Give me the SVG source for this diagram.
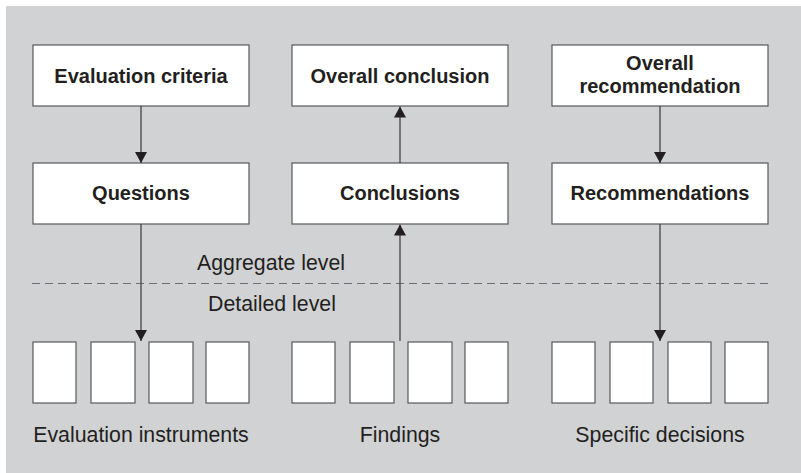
<svg xmlns="http://www.w3.org/2000/svg" width="801" height="473" viewBox="0 0 801 473">
  <style>
    .box { fill: #ffffff; stroke: #58595b; stroke-width: 1.2; }
    .hd { font-family: "Liberation Sans", Arial, sans-serif; font-weight: bold; font-size: 20px; fill: #231f20; text-anchor: middle; }
    .lb { font-family: "Liberation Sans", Arial, sans-serif; font-size: 21.3px; fill: #231f20; text-anchor: middle; }
    .ln { stroke: #3a3a3c; stroke-width: 1.2; fill: none; }
    .dash { stroke: #6d6e71; stroke-width: 1.2; stroke-dasharray: 8 5; fill: none; }
  </style>
  <defs>
    <marker id="tri" markerWidth="11" markerHeight="12" refX="11" refY="6" orient="auto" markerUnits="userSpaceOnUse" viewBox="0 0 11 12">
      <path d="M0,0 L11,6 L0,12 Z" fill="#231f20"/>
    </marker>
  </defs>

  <rect x="6" y="6" width="795" height="467" fill="#d1d2d4"/>

  <!-- level separator -->
  <g id="levels">
    <line class="dash" x1="32" y1="283.5" x2="768" y2="283.5"/>
    <text class="lb" x="271" y="270">Aggregate level</text>
    <text class="lb" x="272" y="311">Detailed level</text>
  </g>

  <!-- column 1: criteria, questions, instruments -->
  <g id="evaluation-criteria">
    <rect class="box" x="33" y="45" width="216" height="61"/>
    <text class="hd" x="141" y="83">Evaluation criteria</text>
  </g>
  <g id="questions">
    <rect class="box" x="33" y="163" width="216" height="61"/>
    <text class="hd" x="141" y="200">Questions</text>
  </g>
  <g id="evaluation-instruments">
    <rect class="box" x="33" y="342" width="43" height="61"/>
    <rect class="box" x="91" y="342" width="44" height="61"/>
    <rect class="box" x="149" y="342" width="44" height="61"/>
    <rect class="box" x="206" y="342" width="43" height="61"/>
    <text class="lb" x="141" y="442">Evaluation instruments</text>
  </g>

  <!-- column 2: conclusions, findings -->
  <g id="overall-conclusion">
    <rect class="box" x="292" y="45" width="216" height="61"/>
    <text class="hd" x="400" y="83">Overall conclusion</text>
  </g>
  <g id="conclusions">
    <rect class="box" x="292" y="163" width="216" height="61"/>
    <text class="hd" x="400" y="200">Conclusions</text>
  </g>
  <g id="findings">
    <rect class="box" x="292" y="342" width="43" height="61"/>
    <rect class="box" x="350" y="342" width="44" height="61"/>
    <rect class="box" x="408" y="342" width="44" height="61"/>
    <rect class="box" x="465" y="342" width="43" height="61"/>
    <text class="lb" x="400" y="442">Findings</text>
  </g>

  <!-- column 3: recommendations, decisions -->
  <g id="overall-recommendation">
    <rect class="box" x="552" y="45" width="216" height="61"/>
    <text class="hd" x="660" y="70">Overall</text>
    <text class="hd" x="660" y="93">recommendation</text>
  </g>
  <g id="recommendations">
    <rect class="box" x="552" y="163" width="216" height="61"/>
    <text class="hd" x="660" y="200">Recommendations</text>
  </g>
  <g id="specific-decisions">
    <rect class="box" x="552" y="342" width="43" height="61"/>
    <rect class="box" x="610" y="342" width="43" height="61"/>
    <rect class="box" x="668" y="342" width="43" height="61"/>
    <rect class="box" x="725" y="342" width="43" height="61"/>
    <text class="lb" x="660" y="442">Specific decisions</text>
  </g>

  <!-- connectors -->
  <g id="connectors">
    <line class="ln" x1="141" y1="106" x2="141" y2="163" marker-end="url(#tri)"/>
    <line class="ln" x1="141" y1="224" x2="141" y2="341" marker-end="url(#tri)"/>
    <line class="ln" x1="400" y1="163" x2="400" y2="106.5" marker-end="url(#tri)"/>
    <line class="ln" x1="400" y1="341" x2="400" y2="224.5" marker-end="url(#tri)"/>
    <line class="ln" x1="660" y1="106" x2="660" y2="163" marker-end="url(#tri)"/>
    <line class="ln" x1="660" y1="224" x2="660" y2="341" marker-end="url(#tri)"/>
  </g>
</svg>
